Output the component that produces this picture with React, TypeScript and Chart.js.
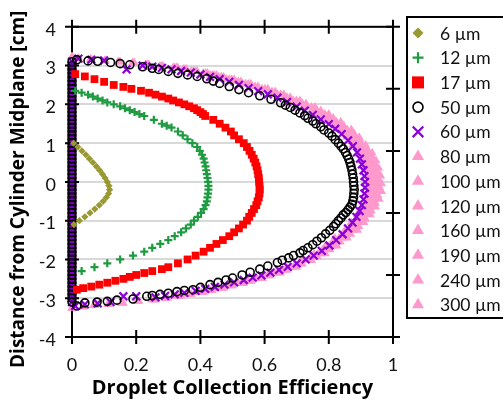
import React, { useEffect, useRef } from 'react';
import { Chart, registerables } from 'chart.js';
import { drawPoint } from 'chart.js/helpers';

Chart.register(...registerables);

const FONT = 'Lato, "Open Sans", sans-serif';
const TITLE_FONT = '"Open Sans", Lato, sans-serif';

const SERIES_LABELS = ['6 µm', '12 µm', '17 µm', '50 µm', '60 µm', '80 µm', '100 µm', '120 µm', '160 µm', '190 µm', '240 µm', '300 µm'];
const X_TICK_LABELS = ['0', '0.2', '0.4', '0.6', '0.8', '1'];
const Y_TICK_LABELS = ['-4', '-3', '-2', '-1', '0', '1', '2', '3', '4'];
const X_TITLE = 'Droplet Collection Efficiency';
const Y_TITLE = 'Distance from Cylinder Midplane [cm]\u00a0\u00a0\u00a0';

// 6 µm
const POS_6 = [1.0, 0.9, 0.8, 0.7, 0.6, 0.5, 0.4, 0.3, 0.2, 0.1, 0, -0.1, -0.2, -0.3, -0.4, -0.5, -0.6, -0.7, -0.8, -0.9, -1.0, -1.1];
const EFF_6 = [0.005, 0.018, 0.031, 0.043, 0.054, 0.065, 0.076, 0.086, 0.095, 0.103, 0.11, 0.115, 0.117, 0.114, 0.107, 0.097, 0.085, 0.071, 0.056, 0.04, 0.023, 0.006];

// 12 µm
const POS_12 = [2.35, 2.3, 2.25, 2.2, 2.15, 2.1, 2.05, 2.0, 1.95, 1.9, 1.85, 1.8, 1.75, 1.7, 1.6, 1.5, 1.45, 1.4, 1.3, 1.2, 1.1, 1.0, 0.9, 0.8, 0.7, 0.6, 0.5, 0.4, 0.3, 0.2, 0.1, 0, -0.1, -0.2, -0.3, -0.4, -0.5, -0.6, -0.7, -0.8, -0.9, -1.0, -1.1, -1.2, -1.3, -1.4, -1.5, -1.6, -1.7, -1.8, -1.9, -2.0, -2.1, -2.2, -2.3];
const EFF_12 = [0.01, 0.03, 0.05, 0.065, 0.08, 0.095, 0.11, 0.13, 0.15, 0.165, 0.18, 0.195, 0.21, 0.225, 0.255, 0.28, 0.295, 0.31, 0.33, 0.345, 0.36, 0.375, 0.39, 0.398, 0.405, 0.41, 0.413, 0.416, 0.418, 0.42, 0.422, 0.424, 0.425, 0.425, 0.424, 0.422, 0.42, 0.416, 0.41, 0.402, 0.392, 0.38, 0.37, 0.355, 0.34, 0.32, 0.3, 0.275, 0.25, 0.225, 0.19, 0.15, 0.11, 0.07, 0.03];

// 17 µm
const POS_17 = [2.78, 2.72, 2.65, 2.58, 2.5, 2.45, 2.4, 2.35, 2.3, 2.25, 2.2, 2.15, 2.1, 2.05, 2.0, 1.95, 1.9, 1.85, 1.8, 1.75, 1.7, 1.6, 1.5, 1.4, 1.3, 1.2, 1.1, 1.0, 0.9, 0.8, 0.7, 0.6, 0.5, 0.4, 0.3, 0.2, 0.1, 0, -0.1, -0.2, -0.3, -0.4, -0.5, -0.6, -0.7, -0.8, -0.9, -1.0, -1.1, -1.2, -1.3, -1.4, -1.5, -1.6, -1.7, -1.8, -1.9, -2.0, -2.1, -2.2, -2.25, -2.3, -2.35, -2.4, -2.45, -2.5, -2.55, -2.6, -2.65, -2.7, -2.74, -2.78];
const EFF_17 = [0.01, 0.04, 0.07, 0.1, 0.13, 0.16, 0.185, 0.215, 0.24, 0.26, 0.28, 0.3, 0.315, 0.333, 0.35, 0.365, 0.38, 0.39, 0.4, 0.408, 0.415, 0.44, 0.46, 0.478, 0.495, 0.505, 0.52, 0.535, 0.545, 0.553, 0.56, 0.566, 0.571, 0.575, 0.578, 0.58, 0.582, 0.583, 0.584, 0.585, 0.584, 0.582, 0.578, 0.574, 0.567, 0.56, 0.552, 0.545, 0.533, 0.52, 0.505, 0.49, 0.47, 0.45, 0.43, 0.41, 0.385, 0.36, 0.33, 0.3, 0.28, 0.25, 0.225, 0.2, 0.18, 0.16, 0.135, 0.11, 0.085, 0.06, 0.035, 0.015];

// zero-efficiency release positions along the cylinder axis (50 and 60 µm)
const AXIS_POS = [3.1, 3.0, 2.9, 2.8, 2.7, 2.6, 2.5, 2.4, 2.3, 2.2, 2.1, 2.0, 1.9, 1.8, 1.7, 1.6, 1.5, 1.4, 1.3, 1.2, 1.1, 1.0, 0.9, 0.8, 0.7, 0.6, 0.5, 0.4, 0.3, 0.2, 0.1, 0, -0.1, -0.2, -0.3, -0.4, -0.5, -0.6, -0.7, -0.8, -0.9, -1.0, -1.1, -1.2, -1.3, -1.4, -1.5, -1.6, -1.7, -1.8, -1.9, -2.0, -2.1, -2.2, -2.3, -2.4, -2.5, -2.6, -2.7, -2.8, -2.9, -3.0, -3.1];
const AXIS_EFF = [0, 0, 0, 0, 0, 0, 0, 0, 0, 0, 0, 0, 0, 0, 0, 0, 0, 0, 0, 0, 0, 0, 0, 0, 0, 0, 0, 0, 0, 0, 0, 0, 0, 0, 0, 0, 0, 0, 0, 0, 0, 0, 0, 0, 0, 0, 0, 0, 0, 0, 0, 0, 0, 0, 0, 0, 0, 0, 0, 0, 0, 0, 0];

// 50 µm
const POS_50 = [3.15, 3.12, 3.11, 3.08, 3.05, 3.02, 2.97, 2.93, 2.9, 2.85, 2.8, 2.76, 2.72, 2.66, 2.6, 2.54, 2.46, 2.38, 2.3, 2.22, 2.13, 2.04, 1.98, 1.92, 1.85, 1.78, 1.71, 1.64, 1.57, 1.5, 1.42, 1.34, 1.26, 1.18, 1.09, 1.0, 0.92, 0.85, 0.76, 0.68, 0.59, 0.5, 0.4, 0.3, 0.2, 0.1, 0, -0.1, -0.2, -0.3, -0.4, -0.49, -0.58, -0.65, -0.72, -0.79, -0.85, -0.93, -1.0, -1.08, -1.15, -1.25, -1.34, -1.44, -1.53, -1.62, -1.7, -1.77, -1.83, -1.9, -1.96, -2.02, -2.08, -2.17, -2.25, -2.33, -2.4, -2.48, -2.53, -2.59, -2.65, -2.72, -2.78, -2.8, -2.83, -2.87, -2.9, -2.93, -2.95, -3.02, -3.05, -3.08, -3.1, -3.12, -3.2];
const EFF_50 = [0.015, 0.05, 0.08, 0.12, 0.15, 0.18, 0.22, 0.25, 0.27, 0.3, 0.33, 0.36, 0.39, 0.42, 0.44, 0.46, 0.49, 0.52, 0.55, 0.585, 0.62, 0.65, 0.665, 0.68, 0.695, 0.71, 0.725, 0.735, 0.75, 0.76, 0.775, 0.785, 0.8, 0.81, 0.82, 0.83, 0.838, 0.845, 0.852, 0.857, 0.862, 0.866, 0.869, 0.872, 0.874, 0.876, 0.877, 0.878, 0.879, 0.878, 0.877, 0.875, 0.872, 0.866, 0.86, 0.853, 0.845, 0.838, 0.83, 0.822, 0.815, 0.803, 0.79, 0.777, 0.763, 0.75, 0.735, 0.72, 0.71, 0.69, 0.675, 0.655, 0.64, 0.61, 0.585, 0.555, 0.53, 0.5, 0.48, 0.455, 0.43, 0.4, 0.377, 0.35, 0.327, 0.3, 0.274, 0.25, 0.233, 0.19, 0.14, 0.11, 0.078, 0.04, 0.015];

// 60 µm
const POS_60 = [3.18, 3.15, 3.13, 2.9, 3.0, 2.97, 2.94, 2.9, 2.86, 2.82, 2.77, 2.71, 2.65, 2.58, 2.5, 2.42, 2.34, 2.26, 2.17, 2.06, 1.94, 1.84, 1.73, 1.61, 1.49, 1.37, 1.23, 1.07, 0.92, 0.76, 0.6, 0.45, 0.3, 0.15, 0, -0.15, -0.3, -0.45, -0.6, -0.75, -0.9, -1.05, -1.2, -1.35, -1.5, -1.64, -1.78, -1.9, -2.0, -2.1, -2.19, -2.27, -2.34, -2.41, -2.47, -2.53, -2.59, -2.65, -2.71, -2.76, -2.81, -2.86, -2.9, -2.94, -2.98, -2.95, -2.95, -3.1, -3.13, -3.16, -3.2];
const EFF_60 = [0.02, 0.06, 0.1, 0.17, 0.22, 0.25, 0.28, 0.31, 0.34, 0.37, 0.4, 0.43, 0.46, 0.49, 0.52, 0.55, 0.58, 0.61, 0.64, 0.67, 0.7, 0.725, 0.75, 0.775, 0.8, 0.82, 0.84, 0.86, 0.875, 0.888, 0.897, 0.903, 0.908, 0.911, 0.913, 0.913, 0.911, 0.908, 0.903, 0.896, 0.886, 0.874, 0.86, 0.843, 0.823, 0.802, 0.778, 0.753, 0.728, 0.7, 0.672, 0.645, 0.618, 0.59, 0.563, 0.535, 0.505, 0.475, 0.445, 0.415, 0.385, 0.35, 0.32, 0.29, 0.26, 0.2, 0.16, 0.12, 0.08, 0.04, 0.01];

// 80–300 µm (two sets of release positions)
const POS_LARGE_A = [3.22, 3.16, 3.1, 3.03, 2.95, 2.86, 2.76, 2.65, 2.53, 2.4, 2.26, 2.1, 1.93, 1.75, 1.55, 1.35, 1.15, 0.95, 0.75, 0.55, 0.35, 0.15, -0.05, -0.25, -0.45, -0.65, -0.85, -1.05, -1.25, -1.45, -1.65, -1.85, -2.03, -2.2, -2.35, -2.49, -2.62, -2.74, -2.85, -2.95, -3.04, -3.12, -3.19, -3.25];
const POS_LARGE_B = [3.19, 3.13, 3.07, 2.99, 2.91, 2.81, 2.71, 2.59, 2.47, 2.33, 2.18, 2.02, 1.84, 1.65, 1.45, 1.25, 1.05, 0.85, 0.65, 0.45, 0.25, 0.05, -0.15, -0.35, -0.55, -0.75, -0.95, -1.15, -1.35, -1.55, -1.75, -1.94, -2.12, -2.28, -2.42, -2.56, -2.68, -2.8, -2.9, -3.0, -3.08, -3.16, -3.22];
const EFF_80 = [0, 0.057, 0.143, 0.229, 0.315, 0.372, 0.43, 0.482, 0.532, 0.583, 0.63, 0.678, 0.723, 0.764, 0.799, 0.831, 0.855, 0.874, 0.893, 0.904, 0.913, 0.919, 0.922, 0.922, 0.914, 0.903, 0.888, 0.869, 0.85, 0.819, 0.789, 0.754, 0.713, 0.669, 0.621, 0.567, 0.511, 0.452, 0.392, 0.325, 0.248, 0.153, 0.067, 0];
const EFF_100 = [0.019, 0.101, 0.188, 0.274, 0.347, 0.409, 0.457, 0.51, 0.561, 0.613, 0.66, 0.707, 0.751, 0.79, 0.821, 0.852, 0.872, 0.892, 0.907, 0.917, 0.924, 0.928, 0.93, 0.925, 0.918, 0.905, 0.886, 0.867, 0.843, 0.811, 0.78, 0.742, 0.696, 0.649, 0.599, 0.542, 0.486, 0.424, 0.361, 0.289, 0.202, 0.111, 0.034];
const EFF_120 = [0, 0.058, 0.146, 0.233, 0.32, 0.378, 0.437, 0.49, 0.54, 0.592, 0.64, 0.689, 0.734, 0.776, 0.812, 0.844, 0.868, 0.888, 0.907, 0.919, 0.927, 0.933, 0.936, 0.936, 0.928, 0.918, 0.902, 0.883, 0.863, 0.832, 0.801, 0.766, 0.725, 0.679, 0.631, 0.576, 0.519, 0.459, 0.398, 0.33, 0.252, 0.155, 0.068, 0];
const EFF_160 = [0.02, 0.103, 0.191, 0.279, 0.352, 0.416, 0.465, 0.518, 0.57, 0.623, 0.67, 0.718, 0.763, 0.802, 0.834, 0.866, 0.886, 0.906, 0.921, 0.931, 0.939, 0.943, 0.945, 0.94, 0.932, 0.919, 0.9, 0.88, 0.856, 0.823, 0.792, 0.753, 0.707, 0.659, 0.608, 0.551, 0.494, 0.43, 0.367, 0.293, 0.205, 0.112, 0.034];
const EFF_190 = [0, 0.059, 0.148, 0.236, 0.325, 0.384, 0.443, 0.497, 0.549, 0.601, 0.65, 0.699, 0.746, 0.788, 0.824, 0.857, 0.882, 0.901, 0.921, 0.933, 0.942, 0.948, 0.951, 0.951, 0.943, 0.932, 0.916, 0.896, 0.877, 0.845, 0.814, 0.778, 0.736, 0.69, 0.64, 0.585, 0.527, 0.466, 0.404, 0.335, 0.256, 0.158, 0.069, 0];
const EFF_240 = [0.02, 0.104, 0.194, 0.283, 0.357, 0.422, 0.472, 0.526, 0.579, 0.633, 0.68, 0.729, 0.775, 0.814, 0.847, 0.879, 0.9, 0.92, 0.935, 0.945, 0.953, 0.957, 0.959, 0.954, 0.946, 0.933, 0.914, 0.894, 0.869, 0.836, 0.804, 0.765, 0.718, 0.669, 0.618, 0.559, 0.501, 0.437, 0.372, 0.298, 0.209, 0.114, 0.035];
const EFF_300 = [0, 0.06, 0.15, 0.24, 0.33, 0.39, 0.45, 0.505, 0.557, 0.61, 0.66, 0.71, 0.757, 0.8, 0.837, 0.87, 0.895, 0.915, 0.935, 0.947, 0.956, 0.962, 0.965, 0.965, 0.957, 0.946, 0.93, 0.91, 0.89, 0.858, 0.826, 0.79, 0.747, 0.7, 0.65, 0.594, 0.535, 0.473, 0.41, 0.34, 0.26, 0.16, 0.07, 0];

const pts = (xs: number[], ys: number[]) => xs.map((x, i) => ({ x, y: ys[i] }));

const OLIVE = '#999933';
const GREEN = '#1E9A40';
const RED = '#FF0000';
const PURPLE = '#8A00D8';
const PINK = '#FF99CC';

type Style = { color: string; fill: string; style: string; r: number; lr: number; bw: number };
const STYLES: Style[] = [
  { color: OLIVE, fill: OLIVE, style: 'rectRot', r: 3.6, lr: 5.5, bw: 0 },
  { color: GREEN, fill: GREEN, style: 'cross', r: 4, lr: 5.5, bw: 2.2 },
  { color: RED, fill: RED, style: 'rect', r: 5.5, lr: 8.5, bw: 0 },
  { color: '#000000', fill: 'rgba(0,0,0,0)', style: 'circle', r: 4, lr: 5, bw: 1.6 },
  { color: PURPLE, fill: PURPLE, style: 'crossRot', r: 5.5, lr: 7.5, bw: 2.2 },
];
const PINK_STYLE: Style = { color: PINK, fill: PINK, style: 'triangle', r: 5, lr: 7, bw: 0 };

const frameAndLegend = {
  id: 'frameAndLegend',
  beforeDatasetsDraw(chart: any) {
    const { ctx, chartArea: a, scales } = chart;
    ctx.save();
    ctx.strokeStyle = '#000';
    ctx.lineWidth = 2;
    ctx.strokeRect(a.left, a.top, a.right - a.left, a.bottom - a.top);
    const t = 7;
    ctx.beginPath();
    scales.x.ticks.forEach((tk: any) => {
      const px = scales.x.getPixelForValue(tk.value);
      ctx.moveTo(px, a.bottom - t); ctx.lineTo(px, a.bottom + t);
      ctx.moveTo(px, a.top - t); ctx.lineTo(px, a.top + t);
    });
    scales.y.ticks.forEach((tk: any) => {
      const py = scales.y.getPixelForValue(tk.value);
      ctx.moveTo(a.left - t, py); ctx.lineTo(a.left + t, py);
    });
    for (let k = 0; k <= 5; k++) {
      const py = a.top + (k * (a.bottom - a.top)) / 5;
      ctx.moveTo(a.right - t, py); ctx.lineTo(a.right + t, py);
    }
    ctx.stroke();
    ctx.restore();
  },
  afterDraw(chart: any) {
    const { ctx } = chart;
    ctx.save();
    ctx.strokeStyle = '#000';
    ctx.lineWidth = 2;
    ctx.strokeRect(407, 17, 130, 301);
    chart.data.datasets.forEach((ds: any, i: number) => {
      const y = 33 + i * 24.7;
      const st: Style = i < STYLES.length ? STYLES[i] : PINK_STYLE;
      ctx.fillStyle = st.fill;
      ctx.strokeStyle = st.color;
      ctx.lineWidth = st.bw;
      drawPoint(ctx, { pointStyle: st.style as any, radius: st.lr, rotation: 0, borderWidth: st.bw }, 418, y);
      ctx.fillStyle = '#111';
      ctx.font = `17.5px ${FONT}`;
      ctx.textBaseline = 'middle';
      ctx.textAlign = 'left';
      ctx.fillText(ds.label, 440, y + 1);
    });
    ctx.restore();
  },
};

export default function App() {
  const ref = useRef<HTMLCanvasElement>(null);
  useEffect(() => {
    if (!ref.current) return;
    const seriesData = [
      pts(EFF_6, POS_6),
      pts(EFF_12, POS_12),
      pts(EFF_17, POS_17),
      pts(EFF_50, POS_50).concat(pts(AXIS_EFF, AXIS_POS)),
      pts(EFF_60, POS_60).concat(pts(AXIS_EFF, AXIS_POS)),
      pts(EFF_80, POS_LARGE_A),
      pts(EFF_100, POS_LARGE_B),
      pts(EFF_120, POS_LARGE_A),
      pts(EFF_160, POS_LARGE_B),
      pts(EFF_190, POS_LARGE_A),
      pts(EFF_240, POS_LARGE_B),
      pts(EFF_300, POS_LARGE_A),
    ];
    const datasets = seriesData.map((data, i) => {
      const st = i < STYLES.length ? STYLES[i] : PINK_STYLE;
      return {
        label: SERIES_LABELS[i],
        data,
        pointStyle: st.style,
        pointRadius: st.r,
        pointBackgroundColor: st.fill,
        pointBorderColor: st.color,
        pointBorderWidth: st.bw,
        backgroundColor: st.fill,
        borderColor: st.color,
        showLine: false,
        clip: false as any,
      };
    });
    const chart = new Chart(ref.current, {
      type: 'scatter',
      data: { datasets: datasets as any },
      plugins: [frameAndLegend],
      options: {
        responsive: false,
        animation: false,
        layout: { padding: { top: 17, right: 110, left: 0, bottom: 0 } },
        plugins: { legend: { display: false }, tooltip: { enabled: false } },
        scales: {
          x: {
            type: 'linear',
            min: 0,
            max: 1,
            afterFit: (s: any) => { s.height = 63; },
            ticks: {
              stepSize: 0.2,
              padding: 17,
              color: '#111',
              font: { family: FONT, size: 18 },
              callback: (_v: any, i: number) => X_TICK_LABELS[i],
            },
            grid: { display: false, drawTicks: false },
            border: { display: false },
            title: {
              display: true,
              text: X_TITLE,
              color: '#000',
              font: { family: TITLE_FONT, size: 20, weight: 'bold' },
              padding: { top: 0, bottom: 0 },
            },
          },
          y: {
            type: 'linear',
            min: -4,
            max: 4,
            afterFit: (s: any) => { s.width = 72; },
            ticks: {
              stepSize: 1,
              padding: 16,
              labelOffset: 3,
              color: '#111',
              font: { family: FONT, size: 18 },
              callback: (_v: any, i: number) => Y_TICK_LABELS[i],
            },
            grid: { color: '#D9D9D9', lineWidth: 2, drawTicks: false },
            border: { display: false },
            title: {
              display: true,
              text: Y_TITLE,
              color: '#000',
              font: { family: TITLE_FONT, size: 19, weight: 'bold' },
              padding: { top: 7, bottom: 0 },
            },
          },
        },
      },
    });
    return () => chart.destroy();
  }, []);
  return (
    <div style={{ position: 'absolute', left: 0, top: 0, width: 503, height: 400, overflow: 'hidden', background: '#fff' }}>
      <canvas ref={ref} width={503} height={400} style={{ width: 503, height: 400, display: 'block' }} />
    </div>
  );
}
